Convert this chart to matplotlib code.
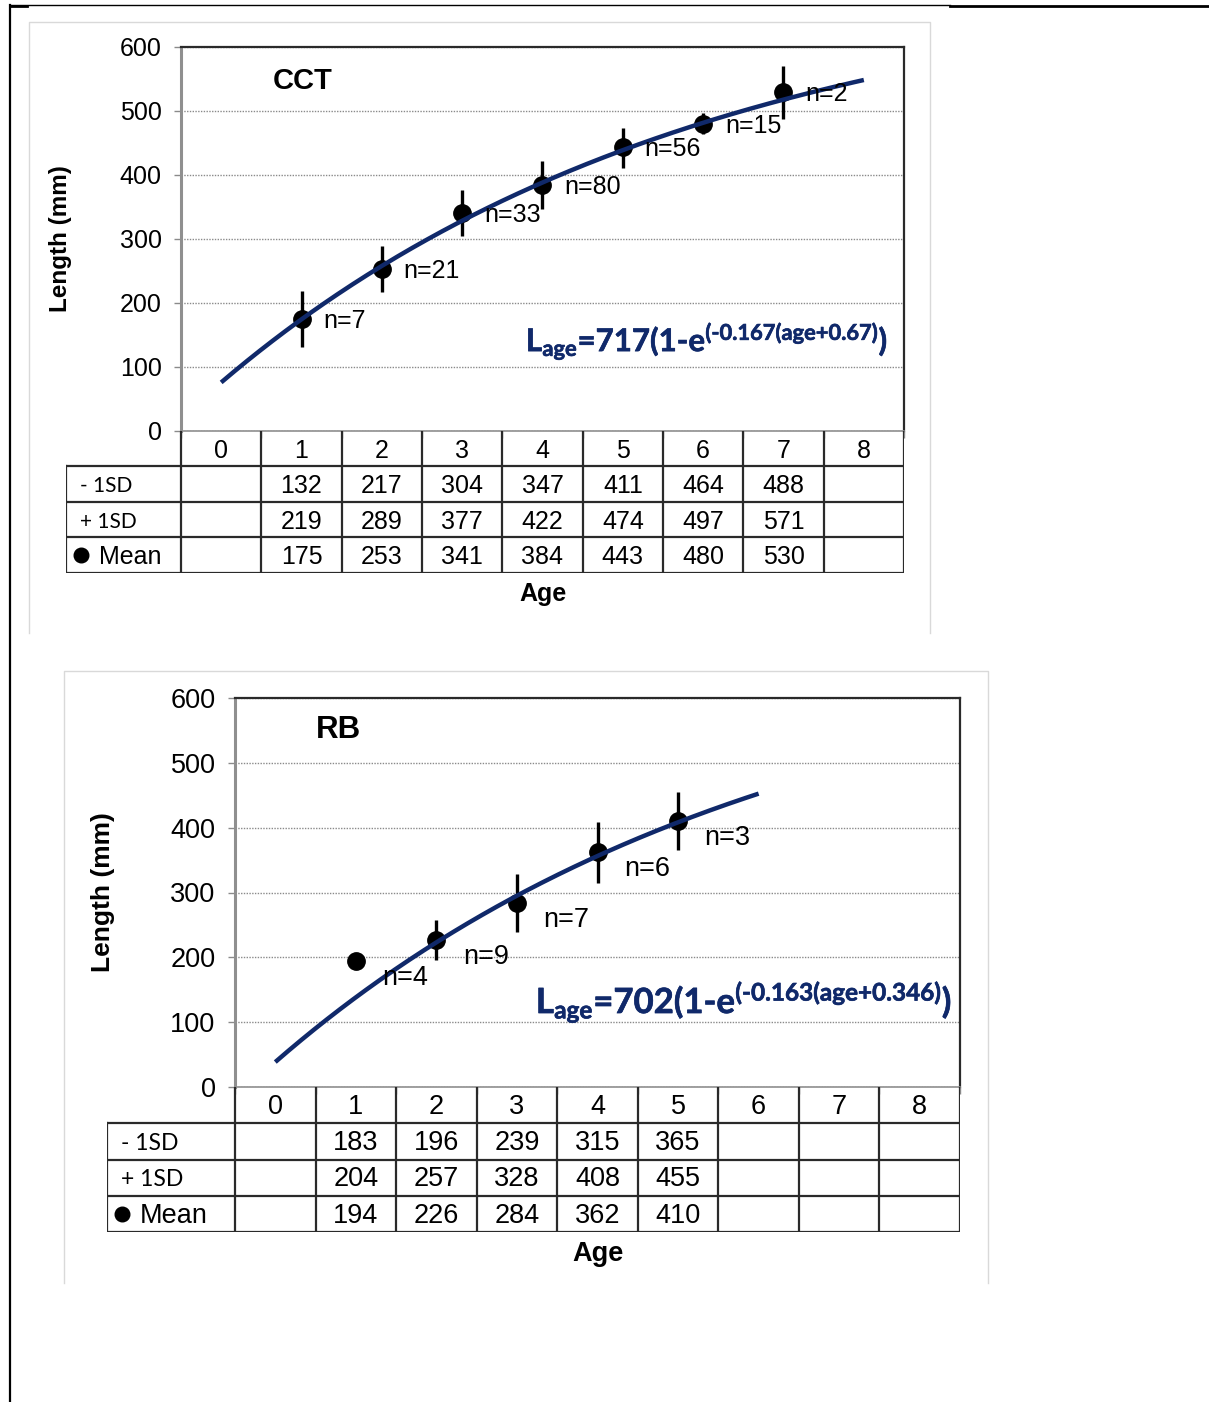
import numpy as np
import matplotlib
matplotlib.use("Agg")
import matplotlib.pyplot as plt
import matplotlib.patheffects as pe
from matplotlib.lines import Line2D

# ---- data ---------------------------------------------------------------
age_cats = [0, 1, 2, 3, 4, 5, 6, 7, 8]

cct_ages = [1, 2, 3, 4, 5, 6, 7]
cct_lo = [132, 217, 304, 347, 411, 464, 488]
cct_hi = [219, 289, 377, 422, 474, 497, 571]
cct_mean = [175, 253, 341, 384, 443, 480, 530]
cct_n = [7, 21, 33, 80, 56, 15, 2]
cct_vb = (717, 0.167, 0.67)   # Linf, K, offset in (age + offset)

rb_ages = [1, 2, 3, 4, 5]
rb_lo = [183, 196, 239, 315, 365]
rb_hi = [204, 257, 328, 408, 455]
rb_mean = [194, 226, 284, 362, 410]
rb_n = [4, 9, 7, 6, 3]
rb_vb = (702, 0.163, 0.346)

row_labels = ["- 1SD", "+ 1SD", "Mean"]

# ---- style --------------------------------------------------------------
plt.rcParams["font.family"] = ["Liberation Sans", "DejaVu Sans"]
plt.rcParams["mathtext.fontset"] = "custom"
plt.rcParams["mathtext.rm"] = "Lato:bold"
plt.rcParams["mathtext.it"] = "Lato:bold"
plt.rcParams["mathtext.bf"] = "Lato:bold"

W, H = 1209, 1402
NAVY = "#10296a"
GRID = "#8a8a8a"
TLINE = "#2a2a2a"

fig = plt.figure(figsize=(W / 100, H / 100), dpi=100)


def rect(x0, y0, x1, y1):
    """Pixel box (origin top-left) -> figure-fraction rectangle."""
    return [x0 / W, 1 - y1 / H, (x1 - x0) / W, (y1 - y0) / H]


def fline(xs, ys, **kw):
    fig.add_artist(Line2D([x / W for x in xs], [1 - y / H for y in ys],
                          transform=fig.transFigure, **kw))


def vb_curve(age, linf, k, off):
    return linf * (1 - np.exp(-k * (age + off)))


def formula_text(linf, k, off):
    return (r"$\text{L}_{\text{age}}\text{=%d(1-e}"
            r"^{\text{(-%s(age+%s)}}\text{)}$" % (linf, k, off))


def panel(plot_box, label_left, table_bottom, panel_box, title, title_xy,
          ages, lo, hi, mean, n, vb, age_end, formula_xy, formula_fs,
          fs, lab_dx, lab_dy, ylabel_x, agelabel_xy):
    px0, py0, px1, py1 = plot_box
    # light frame around the panel (no bottom edge)
    bx0, by0, bx1, by1 = panel_box
    fline([bx0, bx0, bx1, bx1], [by1, by0, by0, by1], color="#d9d9d9", lw=1)

    ax = fig.add_axes(rect(px0, py0, px1, py1))
    ax.set_xlim(-0.5, 8.5)
    ax.set_ylim(0, 600)
    ax.set_yticks(range(0, 601, 100))
    ax.tick_params(axis="y", labelsize=fs, length=5, width=1, color=GRID,
                   pad=9)
    ax.set_xticks(np.arange(-0.5, 9, 1.0))
    ax.tick_params(axis="x", length=5, width=1, color=GRID, labelbottom=False)
    ax.yaxis.grid(True, linestyle=(0, (1, 1)), color=GRID, lw=1)
    ax.set_axisbelow(True)
    for s in ("top", "right"):
        ax.spines[s].set_color(TLINE)
        ax.spines[s].set_linewidth(1.6)
    ax.spines["left"].set_color("#8f8f8f")
    ax.spines["left"].set_linewidth(2.2)
    ax.spines["bottom"].set_color("#8f8f8f")
    ax.spines["bottom"].set_linewidth(1.2)

    ax.vlines(ages, lo, hi, color="k", lw=2.4, zorder=4)
    ax.plot(ages, mean, "o", color="k", ms=12.5, zorder=5)
    grid_age = np.linspace(0, age_end, 300)
    ax.plot(grid_age, vb_curve(grid_age, *vb), color=NAVY, lw=3.2,
            zorder=6, solid_capstyle="butt")

    for a, m, c in zip(ages, mean, n):
        ax.text(a + lab_dx, m + lab_dy, f"n={c}", fontsize=fs, ha="left",
                va="center", zorder=7)

    ax.text(*title_xy, title, transform=ax.transAxes, fontsize=fs + 3,
            fontweight="bold", ha="left", va="center")
    ax.text(*formula_xy, formula_text(*vb), transform=ax.transAxes,
            fontsize=formula_fs, color=NAVY, ha="left", va="baseline",
            path_effects=[pe.withStroke(linewidth=0.45, foreground=NAVY)])

    ax.set_ylabel("Length (mm)", fontsize=fs - 0.5, fontweight="bold")
    ax.yaxis.set_label_coords((ylabel_x - px0) / (px1 - px0), 0.5)

    # ---- data table under the plot, sharing the age columns -----------
    tx = fig.add_axes(rect(label_left, py1, px1, table_bottom))
    xl = -0.5 - (px0 - label_left) / (px1 - px0) * 9
    tx.set_xlim(xl, 8.5)
    tx.set_ylim(4, 0)
    tx.axis("off")
    lk = dict(color=TLINE, lw=1.6, solid_capstyle="projecting")
    for b in np.arange(-0.5, 9, 1.0):
        tx.plot([b, b], [0, 4], **lk)
    for r in (1, 2, 3, 4):
        tx.plot([xl, 8.5], [r, r], **lk)
    tx.plot([xl, xl], [1, 4], **lk)

    for a in age_cats:
        tx.text(a, 0.55, str(a), fontsize=fs, ha="center", va="center")
    for r, vals in enumerate((lo, hi, mean), start=1):
        for a, v in zip(ages, vals):
            tx.text(a, r + 0.55, str(v), fontsize=fs, ha="center",
                    va="center")
    cw = (px1 - px0) / 9  # one column in pixels
    off = 14 / cw
    tx.text(xl + off, 1.55, row_labels[0], fontsize=fs - 3,
            family=["Lato", "DejaVu Sans"], ha="left", va="center")
    tx.text(xl + off, 2.55, row_labels[1], fontsize=fs - 3,
            family=["Lato", "DejaVu Sans"], ha="left", va="center")
    tx.plot([xl + 15 / cw], [3.5], "o", color="k", ms=10.5, clip_on=False)
    tx.text(xl + 33 / cw, 3.55, row_labels[2], fontsize=fs, ha="left",
            va="center")

    fig.text(agelabel_xy[0] / W, 1 - agelabel_xy[1] / H, "Age",
             fontsize=fs, fontweight="bold", ha="center", va="center")


panel(plot_box=(181, 47, 904, 431), label_left=66, table_bottom=573,
      panel_box=(29, 22, 930, 633), title="CCT", title_xy=(0.127, 0.912),
      ages=cct_ages, lo=cct_lo, hi=cct_hi, mean=cct_mean, n=cct_n,
      vb=cct_vb, age_end=8, formula_xy=(0.477, 0.208), formula_fs=22.5,
      fs=18, lab_dx=0.27, lab_dy=-3, ylabel_x=72, agelabel_xy=(543, 594))

panel(plot_box=(235, 698, 960, 1087), label_left=107, table_bottom=1232,
      panel_box=(64, 671, 988, 1283), title="RB", title_xy=(0.112, 0.918),
      ages=rb_ages, lo=rb_lo, hi=rb_hi, mean=rb_mean, n=rb_n,
      vb=rb_vb, age_end=6, formula_xy=(0.415, 0.19), formula_fs=25,
      fs=19.5, lab_dx=0.33, lab_dy=-26, ylabel_x=115, agelabel_xy=(598, 1254))

# outer page frame
fline([10, 950], [5, 5], color="k", lw=1)
fline([950, 1209], [5.5, 5.5], color="k", lw=2)
fline([10, 27], [5.5, 5.5], color="k", lw=2)
fline([10, 10], [5, 1402], color="k", lw=1.6)

fig.savefig("out.png", dpi=100)
